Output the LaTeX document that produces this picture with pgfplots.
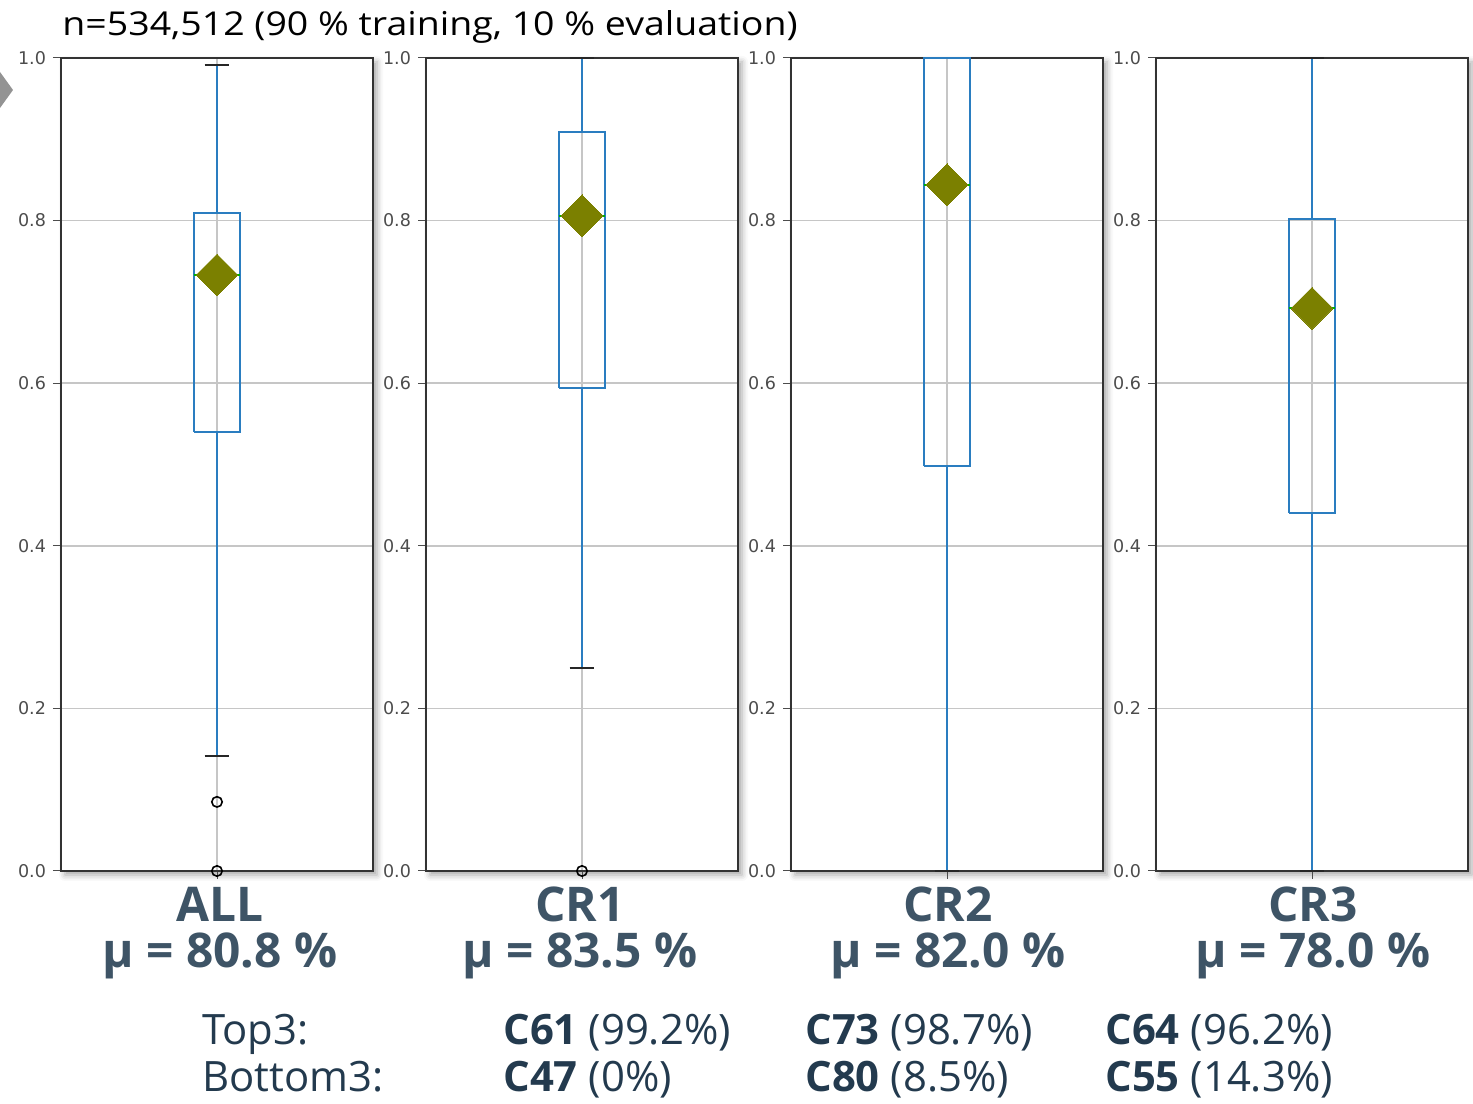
\documentclass[border=0pt]{standalone}
\usepackage{fontspec}
\setmainfont{Open Sans}
\newfontfamily\dejavu{DejaVu Sans}
\usepackage{pgfplots}
\pgfplotsset{compat=1.18}
\usetikzlibrary{shadows.blur}

\definecolor{mplblue}{HTML}{2A7DC0}
\definecolor{olivem}{HTML}{7B8000}
\definecolor{labcol}{HTML}{3E5466}
\definecolor{txtcol}{HTML}{233A4E}

\pgfplotsset{panel/.style={
  scale only axis, width=156bp, height=406.5bp, anchor=south west,
  xmin=0.5, xmax=1.5, ymin=0, ymax=1,
  xtick={1}, xticklabels={},
  ytick={0,0.2,0.4,0.6,0.8,1}, yticklabels={0.0,0.2,0.4,0.6,0.8,1.0},
  tick align=outside, xtick pos=bottom, ytick pos=left,
  major tick length=4bp,
  tick style={black!70, line width=0.5bp},
  grid=major, major grid style={gray!45, line width=0.8bp},
  axis line style={black!80, line width=0.8bp},
  yticklabel style={font=\dejavu\fontsize{8.8}{9}\selectfont, text=black!70},
  axis background/.style={fill=white, blur shadow={shadow xshift=2bp, shadow yshift=-2bp, shadow blur radius=3bp, shadow opacity=35}},
  clip=false,
}}

% lower whisker, q1, median, q3, upper whisker
\newcommand\bx[5]{%
  \addplot[mplblue, line width=1bp] coordinates {(1,#4) (1,#5)};
  \addplot[mplblue, line width=1bp] coordinates {(1,#1) (1,#2)};
  \addplot[black!85, line width=1bp] coordinates {(0.96,#5) (1.04,#5)};
  \addplot[black!85, line width=1bp] coordinates {(0.96,#1) (1.04,#1)};
  \addplot[mplblue, line width=1bp] coordinates {(0.925,#2) (1.075,#2) (1.075,#4) (0.925,#4) (0.925,#2)};
  \addplot[green!70!black, line width=1bp] coordinates {(0.925,#3) (1.075,#3)};
  \addplot[olivem, only marks, mark=square*, mark size=7.4bp, mark options={rotate=45, fill=olivem, draw=olivem, line width=0pt}] coordinates {(1,#3)};
}

\begin{document}
\begin{tikzpicture}
\useasboundingbox (0,0) rectangle (736.5bp,552bp);

\begin{axis}[panel, at={(30.5bp,116.5bp)}]
  \bx{0.1415}{0.540}{0.733}{0.809}{0.991}
  \addplot[only marks, mark=o, mark size=2.6bp, black, line width=0.8bp] coordinates {(1,0.085) (1,0)};
\end{axis}

\begin{axis}[panel, at={(213bp,116.5bp)}]
  \bx{0.250}{0.594}{0.806}{0.909}{1.0}
  \addplot[only marks, mark=o, mark size=2.6bp, black, line width=0.8bp] coordinates {(1,0)};
\end{axis}

\begin{axis}[panel, at={(395.5bp,116.5bp)}]
  \bx{0.0}{0.498}{0.844}{1.0}{1.0}
\end{axis}

\begin{axis}[panel, at={(578bp,116.5bp)}]
  \bx{0.0}{0.440}{0.692}{0.802}{1.0}
\end{axis}

\begin{scope}[x=0.5bp, y=-0.5bp, shift={(0,552bp)}]
  \fill[gray!85] (0,72) -- (13,90) -- (0,108) -- cycle;
  \node[anchor=base west, inner sep=0pt, xscale=1.14, font=\fontsize{16.5}{16.5}\selectfont] at (62,36) {n=534,512 (90 \% training, 10 \% evaluation)};
  \foreach \cx/\nm/\mu in {220/ALL/80.8, 580/CR1/83.5, 948/CR2/82.0, 1313/CR3/78.0} {
    \node[anchor=base, text=labcol, font=\bfseries\fontsize{24}{24}\selectfont] at (\cx,922) {\nm};
    \node[anchor=base, text=labcol, font=\bfseries\fontsize{24}{24}\selectfont] at (\cx,968) {μ = \mu\ \%};
  }
  \begin{scope}[every node/.style={anchor=base west, text=txtcol, font=\fontsize{21}{21}\selectfont, inner sep=0pt}]
    \node at (202,1045) {Top3:};
    \node at (202,1092) {Bottom3:};
    \node at (503,1045) {\textbf{C61} (99.2\%)};
    \node at (805,1045) {\textbf{C73} (98.7\%)};
    \node at (1105,1045) {\textbf{C64} (96.2\%)};
    \node at (503,1092) {\textbf{C47} (0\%)};
    \node at (805,1092) {\textbf{C80} (8.5\%)};
    \node at (1105,1092) {\textbf{C55} (14.3\%)};
  \end{scope}
\end{scope}
\end{tikzpicture}
\end{document}
